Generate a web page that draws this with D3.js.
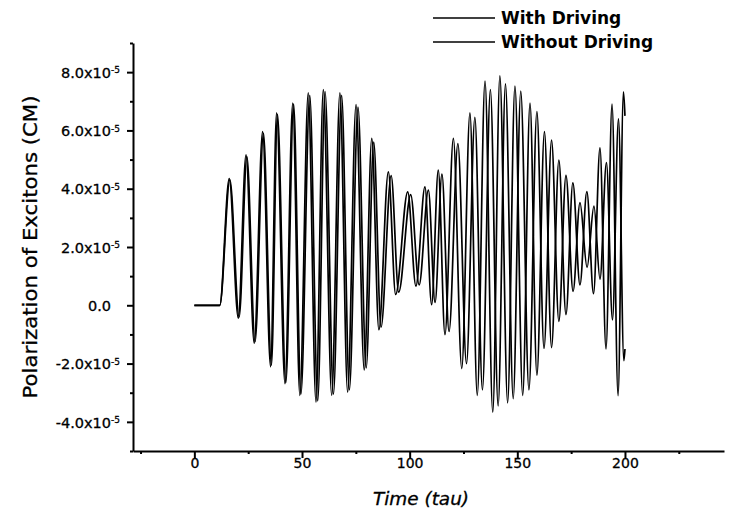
<!DOCTYPE html>
<html>
<head>
<meta charset="utf-8">
<script src="https://cdn.jsdelivr.net/npm/d3@7"></script>
<style>
  body { margin: 0; background: #fff; }
  svg { display: block; font-family: "DejaVu Sans", sans-serif; }
  .axis path, .axis line { stroke: #000; stroke-width: 2; }
  .axis text { fill: #000; font-size: 14px; stroke: #000; stroke-width: 0.3; font-family: "DejaVu Sans", sans-serif; }
</style>
</head>
<body>
<script>
// Figure dimensions
const W = 732, H = 511;
const UNIT = 1e-5;

// Data: [time (tau), polarization in units of 1e-5], peaks and troughs
const withDriving = [
  [0, 0], [11.8, 0],
  [16.2, 4.35], [20.4, -0.44], [24.0, 5.16], [27.8, -1.30], [31.7, 5.96], [35.4, -2.11],
  [38.2, 6.6], [42.1, -2.69], [45.7, 6.94], [49.0, -3.09], [52.9, 7.29], [56.5, -3.32],
  [59.9, 7.40], [63.8, -3.09], [67.6, 7.29], [71.2, -2.98], [75.1, 6.89], [78.9, -2.22],
  [82.4, 5.73], [85.7, -0.84], [90.1, 4.58], [93.5, 0.37], [99.1, 3.89], [102.9, 0.66],
  [107.1, 4.06], [110.2, 0.02], [113.3, 4.64], [116.4, -1.01], [120.3, 5.73], [124.2, -2.17],
  [128.0, 6.6], [131.4, -3.09], [135.0, 7.69], [138.6, -3.67], [141.9, 7.87], [145.5, -3.35],
  [148.9, 7.52], [152.5, -3.09], [155.9, 6.94], [159.1, -2.40], [162.6, 5.96], [165.9, -1.45],
  [169.3, 4.98], [172.6, -0.32], [175.8, 4.2], [179.1, 0.7], [182.3, 3.9], [185.4, 0.4],
  [188.4, 5.4], [191.2, -1.5], [194.0, 6.9], [196.8, -3.1], [199.3, 7.32], [200, 6.5]
];
const withoutDriving = [
  [0, 0], [11.8, 0],
  [16.5, 4.3], [20.8, -0.4], [24.4, 5.1], [28.2, -1.25], [32.1, 5.9], [35.8, -2.05],
  [38.6, 6.55], [42.5, -2.65], [46.1, 6.9], [49.5, -3.05], [53.6, 7.2], [57.3, -3.28],
  [60.7, 7.33], [64.6, -3.05], [68.4, 7.2], [72.0, -2.9], [76.0, 6.8], [79.8, -2.15],
  [83.3, 5.6], [86.7, -0.75], [91.4, 4.45], [94.9, 0.45], [100.5, 3.8], [104.4, 0.7],
  [108.7, 3.95], [111.8, 0.1], [115.0, 4.5], [118.3, -0.9], [122.4, 5.55], [126.4, -2.0],
  [130.3, 6.45], [133.8, -2.9], [137.5, 7.4], [141.1, -3.45], [144.5, 7.6], [148.1, -3.2],
  [151.6, 7.35], [155.4, -2.9], [159.1, 6.65], [162.4, -1.48], [165.9, 5.67], [169.3, -0.55],
  [172.6, 4.46], [175.9, 0.48], [179.1, 3.52], [182.4, 1.3], [185.6, 3.4], [188.4, 0.9],
  [191.4, 4.9], [194.2, -0.5], [197.0, 6.4], [199.5, -1.9], [200, -1.5]
];

const SERIES   = ["With Driving", "Without Driving"];
const X_TICKS  = [0, 50, 100, 150, 200];
const X_MINOR  = [-25, 25, 75, 125, 175, 225];
const Y_TICKS  = [-4, -2, 0, 2, 4, 6, 8];
const Y_MINOR  = [-5, -3, -1, 1, 3, 5, 7, 9];

// Scales
const x = d3.scaleLinear().domain([-28.5, 246]).range([133, 724]);
const y = d3.scaleLinear().domain([-5 * UNIT, 9 * UNIT]).range([451, 43]);

const svg = d3.select("body").append("svg")
  .attr("width", W)
  .attr("height", H);

// Curves
const line = d3.line()
  .x(d => x(d[0]))
  .y(d => y(d[1] * UNIT))
  .curve(d3.curveMonotoneX);

[withDriving, withoutDriving].forEach(s => {
  svg.append("path")
    .attr("d", line(s))
    .attr("fill", "none")
    .attr("stroke", "#000")
    .attr("stroke-width", 1.7);
});

// Minor ticks
svg.append("g")
  .attr("class", "axis")
  .attr("transform", `translate(0,${y.range()[0]})`)
  .call(d3.axisBottom(x).tickValues(X_MINOR).tickSize(3).tickSizeOuter(0).tickFormat(""))
  .call(g => g.select(".domain").remove());
svg.append("g")
  .attr("class", "axis")
  .attr("transform", `translate(${x.range()[0]},0)`)
  .call(d3.axisLeft(y).tickValues(Y_MINOR.map(v => v * UNIT)).tickSize(3).tickSizeOuter(0).tickFormat(""))
  .call(g => g.select(".domain").remove());

// X axis
svg.append("g")
  .attr("class", "axis")
  .attr("transform", `translate(0,${y.range()[0]})`)
  .call(d3.axisBottom(x).tickValues(X_TICKS).tickSize(7).tickSizeOuter(0))
  .call(g => g.selectAll("text").attr("y", 7).attr("dy", "0.71em"));

// Y axis
svg.append("g")
  .attr("class", "axis")
  .attr("transform", `translate(${x.range()[0]},0)`)
  .call(d3.axisLeft(y).tickValues(Y_TICKS.map(v => v * UNIT)).tickSize(6).tickSizeOuter(0).tickFormat(""))
  .call(g => g.selectAll(".tick").each(function(d) {
    const v = Math.round(d / UNIT);
    const t = d3.select(this).append("text")
      .attr("x", v === 0 ? -22 : -13)
      .attr("dy", "0.36em")
      .attr("text-anchor", "end")
      .style("font-size", "14.5px");
    if (v === 0) { t.text("0.0"); return; }
    t.append("tspan").text(v.toFixed(1) + "x10");
    t.append("tspan").text("-5").attr("dy", "-0.5em").style("font-size", "9px");
  }));

// Axis titles
svg.append("text")
  .attr("transform", `translate(30,247) rotate(-90)`)
  .attr("text-anchor", "middle")
  .attr("dy", "0.36em")
  .attr("textLength", 303)
  .attr("lengthAdjust", "spacingAndGlyphs")
  .style("font-size", "19px")
  .attr("stroke", "#000").attr("stroke-width", 0.3)
  .text("Polarization of Excitons (CM)");

svg.append("text")
  .attr("x", 421)
  .attr("y", 499)
  .attr("text-anchor", "middle")
  .attr("dy", "0.36em")
  .attr("textLength", 96)
  .attr("lengthAdjust", "spacingAndGlyphs")
  .style("font-size", "17px")
  .style("font-style", "italic")
  .attr("stroke", "#000").attr("stroke-width", 0.3)
  .text("Time (tau)");

// Legend
const legend = svg.append("g").attr("transform", "translate(433,18)");
SERIES.forEach((name, i) => {
  const row = legend.append("g").attr("transform", `translate(0,${i * 24})`);
  row.append("line")
    .attr("x1", 0).attr("x2", 62)
    .attr("stroke", "#000").attr("stroke-width", 1.5);
  row.append("text")
    .attr("x", 68)
    .attr("dy", "0.36em")
    .style("font-size", "17px")
    .style("font-weight", "bold")
    .text(name);
});
</script>
</body>
</html>
